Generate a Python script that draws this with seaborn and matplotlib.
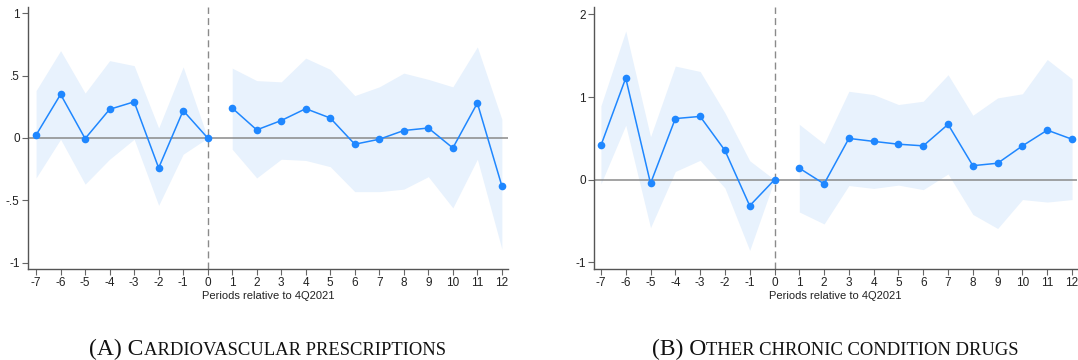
import numpy as np
import pandas as pd
import matplotlib
matplotlib.use("Agg")
import matplotlib.pyplot as plt
import seaborn as sns

periods = [-7, -6, -5, -4, -3, -2, -1, 0, 1, 2, 3, 4, 5, 6, 7, 8, 9, 10, 11, 12]

cardio_est = [0.024, 0.35, -0.005, 0.23, 0.29, -0.24, 0.22, 0.0,
              0.24, 0.065, 0.14, 0.235, 0.16, -0.05, -0.01, 0.06, 0.08, -0.08, 0.28, -0.385]
cardio_hi = [0.38, 0.70, 0.36, 0.62, 0.58, 0.08, 0.57, 0.0,
             0.56, 0.46, 0.45, 0.64, 0.55, 0.34, 0.41, 0.52, 0.47, 0.41, 0.73, 0.15]
cardio_lo = [-0.32, -0.01, -0.37, -0.17, -0.01, -0.54, -0.13, 0.0,
             -0.09, -0.32, -0.17, -0.18, -0.23, -0.43, -0.43, -0.41, -0.31, -0.56, -0.17, -0.89]

other_est = [0.415, 1.23, -0.045, 0.74, 0.766, 0.355, -0.315, 0.0,
             0.14, -0.05, 0.50, 0.464, 0.43, 0.41, 0.67, 0.17, 0.20, 0.41, 0.60, 0.49]
other_hi = [0.895, 1.80, 0.52, 1.375, 1.31, 0.81, 0.23, 0.0,
            0.67, 0.435, 1.07, 1.03, 0.91, 0.95, 1.27, 0.78, 0.99, 1.04, 1.455, 1.22]
other_lo = [-0.05, 0.66, -0.58, 0.10, 0.235, -0.10, -0.855, 0.0,
            -0.39, -0.535, -0.07, -0.105, -0.065, -0.12, 0.07, -0.42, -0.59, -0.24, -0.27, -0.24]

cardio_yticks = [-1, -0.5, 0, 0.5, 1]
cardio_yticklabels = ["-1", "-.5", "0", ".5", "1"]
other_yticks = [-1, 0, 1, 2]
other_yticklabels = ["-1", "0", "1", "2"]

xlabel = "Periods relative to 4Q2021"
captions = [("(A) C", "ARDIOVASCULAR PRESCRIPTIONS"), ("(B) O", "THER CHRONIC CONDITION DRUGS")]

sns.set_theme(style="white")
plt.rcParams["font.family"] = ["Liberation Sans", "DejaVu Sans"]

LINE = "#1f87ff"
BAND = "#e8f2fd"

fig = plt.figure(figsize=(10.78, 3.6), dpi=100)
ax1 = fig.add_axes([28/1078, 1-269/360, 480/1078, 262/360])
ax2 = fig.add_axes([594/1078, 1-269/360, 483/1078, 262/360])


def draw(ax, est, lo, hi, yticks, ylabels, ylim, xlim):
    df = pd.DataFrame({"period": periods, "est": est, "lo": lo, "hi": hi})
    df["segment"] = np.where(df["period"] <= 0, "pre", "post")
    for seg, g in df.groupby("segment"):
        ax.fill_between(g["period"], g["lo"], g["hi"], color=BAND, lw=0, zorder=1)
    ax.axhline(0, color="#8a8a8a", lw=1.1, zorder=2)
    ax.axvline(0, color="#8a8a8a", lw=1.0, ls=(0, (5, 3)), zorder=2)
    sns.lineplot(data=df, x="period", y="est", units="segment", estimator=None,
                 color=LINE, lw=1.1, marker="o", markersize=5.5,
                 markeredgecolor=LINE, markeredgewidth=0, ax=ax, zorder=3, legend=False)
    ax.set_xlim(*xlim)
    ax.set_ylim(*ylim)
    ax.set_xticks(periods)
    ax.set_xticklabels([str(p) for p in periods])
    ax.set_yticks(yticks)
    ax.set_yticklabels(ylabels)
    ax.set_xlabel(xlabel, fontsize=8, color="#222222", labelpad=1)
    ax.set_ylabel("")
    for s in ["top", "right"]:
        ax.spines[s].set_visible(False)
    for s in ["left", "bottom"]:
        ax.spines[s].set_color("#555555")
        ax.spines[s].set_linewidth(1.0)
    ax.tick_params(axis="both", which="major", direction="out", length=4, width=0.8,
                   color="#666666", labelsize=8.5, labelcolor="#222222", pad=2,
                   bottom=True, left=True)
    ax.grid(False)


draw(ax1, cardio_est, cardio_lo, cardio_hi, cardio_yticks, cardio_yticklabels,
     (-1.05, 1.05), (-7.33, 12.25))
draw(ax2, other_est, other_lo, other_hi, other_yticks, other_yticklabels,
     (-1.08, 2.09), (-7.28, 12.2))

# Small-caps captions built from pieces
renderer = fig.canvas.get_renderer()
serif = ["Liberation Serif", "DejaVu Serif"]
for (big, small), cx in zip(captions, [267/1078, 835/1078]):
    t1 = fig.text(0, 0, big, fontsize=17, family=serif, color="#111111", va="baseline")
    t2 = fig.text(0, 0, small, fontsize=13.4, family=serif, color="#111111", va="baseline")
    w1 = t1.get_window_extent(renderer).width / fig.bbox.width
    w2 = t2.get_window_extent(renderer).width / fig.bbox.width
    x0 = cx - (w1 + w2) / 2
    y = 1 - 355/360
    t1.set_position((x0, y))
    t2.set_position((x0 + w1 + 0.0005, y))

fig.savefig("out.png", dpi=100)
